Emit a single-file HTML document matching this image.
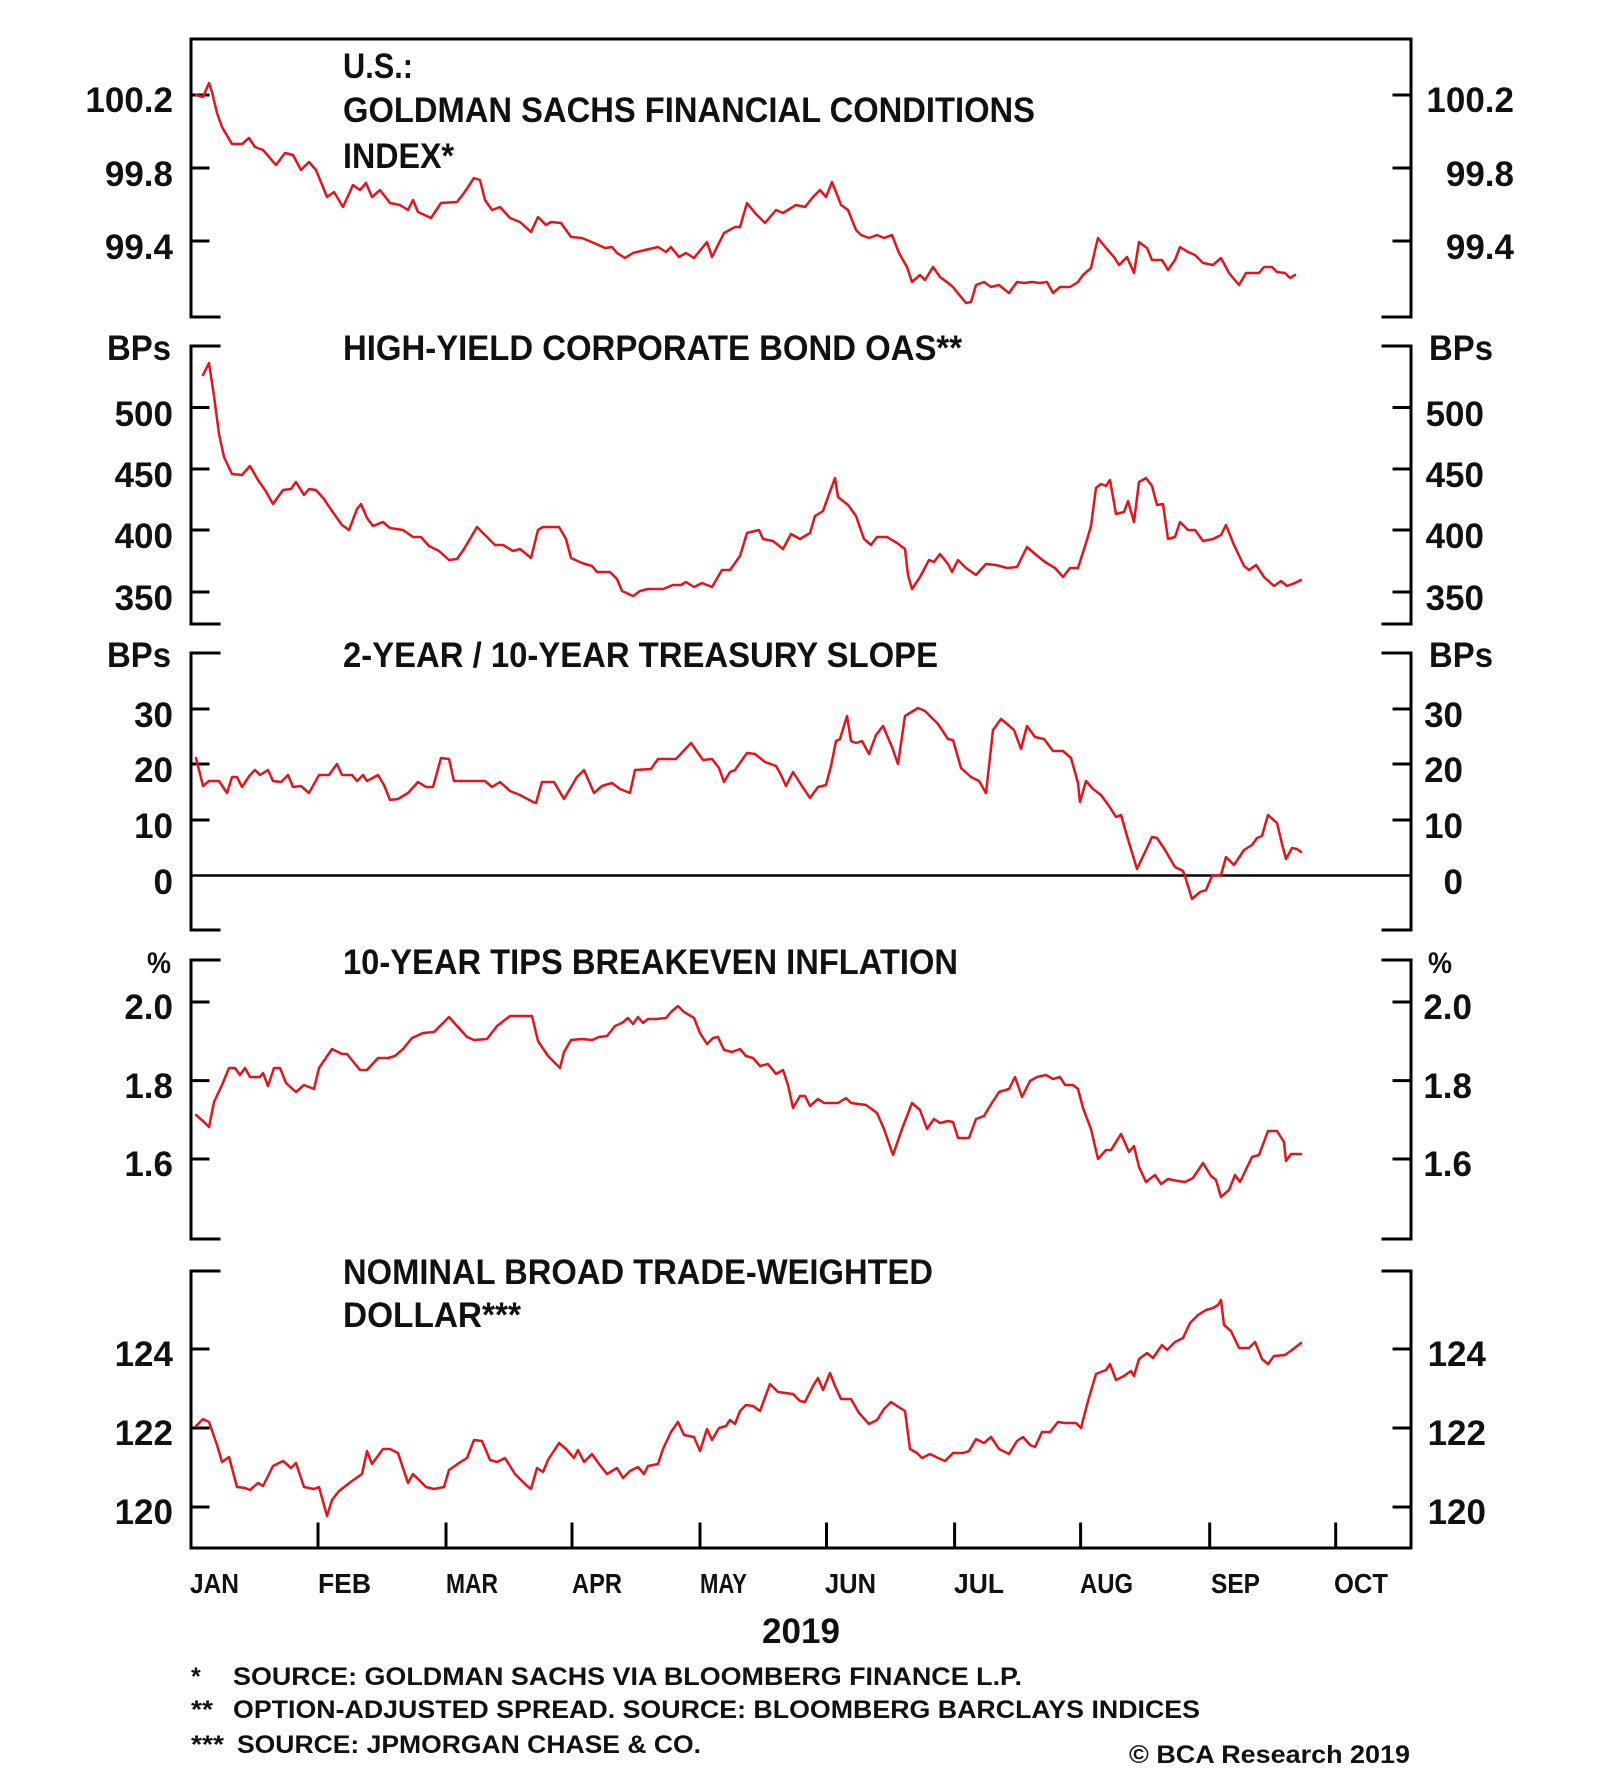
<!DOCTYPE html>
<html>
<head>
<meta charset="utf-8">
<style>
  html, body { margin: 0; padding: 0; background: #ffffff; }
  svg { display: block; }
  text { font-family: "Liberation Sans", Arial, sans-serif; font-weight: bold; fill: #111111; }
</style>
</head>
<body>
<svg width="1600" height="1787" viewBox="0 0 1600 1787" xmlns="http://www.w3.org/2000/svg">
  <rect x="0" y="0" width="1600" height="1787" fill="#ffffff"/>

  <g stroke="#000" stroke-width="3" fill="none" stroke-linecap="square">
    <!-- Panel 1 frame -->
    <path d="M191,39 L1411,39"/>
    <path d="M191,39 L191,317 L219,317"/>
    <path d="M1411,39 L1411,317 L1383,317"/>
    <path d="M191,95 L208,95 M191,168 L208,168 M191,241 L208,241"/>
    <path d="M1411,95 L1394,95 M1411,168 L1394,168 M1411,241 L1394,241"/>

    <!-- Panel 2 -->
    <path d="M219,346 L191,346 L191,624 L219,624"/>
    <path d="M1383,346 L1411,346 L1411,624 L1383,624"/>
    <path d="M191,407.5 L208,407.5 M191,469 L208,469 M191,530 L208,530 M191,592 L208,592"/>
    <path d="M1411,407.5 L1394,407.5 M1411,469 L1394,469 M1411,530 L1394,530 M1411,592 L1394,592"/>

    <!-- Panel 3 -->
    <path d="M219,653 L191,653 L191,930 L219,930"/>
    <path d="M1383,653 L1411,653 L1411,930 L1383,930"/>
    <path d="M191,709 L208,709 M191,764 L208,764 M191,820 L208,820"/>
    <path d="M1411,709 L1394,709 M1411,764 L1394,764 M1411,820 L1394,820"/>
    <path d="M191,875.5 L1411,875.5" stroke-width="2.5"/>

    <!-- Panel 4 -->
    <path d="M219,960 L191,960 L191,1239 L219,1239"/>
    <path d="M1383,960 L1411,960 L1411,1239 L1383,1239"/>
    <path d="M191,1002 L208,1002 M191,1080.6 L208,1080.6 M191,1159 L208,1159"/>
    <path d="M1411,1002 L1394,1002 M1411,1080.6 L1394,1080.6 M1411,1159 L1394,1159"/>

    <!-- Panel 5 -->
    <path d="M219,1271 L191,1271 L191,1548 L1411,1548 L1411,1271 L1383,1271"/>
    <path d="M191,1349 L208,1349 M191,1428 L208,1428 M191,1507 L208,1507"/>
    <path d="M1411,1349 L1394,1349 M1411,1428 L1394,1428 M1411,1507 L1394,1507"/>
    <!-- month ticks -->
    <path d="M318,1524 L318,1548 M446,1524 L446,1548 M572,1524 L572,1548 M700,1524 L700,1548 M826.5,1524 L826.5,1548 M954.6,1524 L954.6,1548 M1080.6,1524 L1080.6,1548 M1209.7,1524 L1209.7,1548 M1335.7,1524 L1335.7,1548"/>
  </g>

  <!-- Series -->
  <g stroke="#e3141c" stroke-width="2.5" fill="none" stroke-linejoin="round" stroke-linecap="round">
    <polyline points="196,95 203,97 209,83 212,92 217,113 222,127 232,144 242,144 249,138 255,147 263,150 276,165 285,153 293,155 301,170 309,162 316,170 327,197 334,192 343,207 353,185 360,190 366,183 372,197 380,190 390,203 400,205 408,210 413,200 418,212 431,218 441,203 457,202 464,193 474,178 480,180 485,200 492,210 500,207 510,218 520,222 531,232 538,217 546,225 551,222 561,223 571,237 582,238 594,243 605,248 612,247 617,253 625,258 633,253 645,250 658,247 666,252 671,247 679,257 686,253 694,258 707,242 712,257 724,233 735,227 740,227 747,203 755,213 765,223 776,210 783,213 796,205 805,207 813,197 820,190 826,197 832,182 838,197 841,205 848,210 856,230 861,235 869,238 877,235 884,238 892,235 899,253 907,267 912,282 920,275 925,280 933,267 940,277 948,283 953,287 961,297 966,303 971,302 976,285 984,282 991,287 999,285 1009,293 1017,282 1024,283 1032,282 1040,283 1047,282 1053,293 1060,287 1070,287 1078,282 1083,275 1091,268 1095,250 1098,238 1106,248 1114,257 1119,265 1127,257 1134,273 1139,242 1147,248 1152,260 1162,260 1168,270 1175,260 1180,247 1188,252 1195,255 1203,263 1213,265 1221,258 1229,273 1239,285 1246,273 1259,273 1264,267 1272,267 1277,272 1285,273 1290,278 1295,275"/>

    <polyline points="203,375 209,363 214,396 219,434 224,457 232,474 242,475 250,466 258,480 265,490 273,504 283,490 291,489 296,482 304,495 309,489 316,490 324,499 332,511 342,525 349,530 357,509 361,504 367,518 373,526 383,522 390,528 403,530 413,537 421,537 429,546 439,551 449,560 457,559 464,549 477,527 485,535 495,545 503,545 513,551 520,549 531,558 538,530 543,527 559,527 566,539 571,558 582,563 592,566 597,572 610,572 617,579 622,591 633,596 640,591 648,589 663,589 673,585 681,585 686,582 694,587 702,583 712,587 722,570 730,570 740,556 747,533 759,530 763,539 773,541 783,549 791,534 800,539 810,533 815,516 823,511 828,497 835,478 838,497 848,505 856,516 864,539 871,545 877,537 887,537 897,543 905,549 908,575 912,589 920,577 929,560 934,562 940,554 948,564 952,572 958,560 966,568 976,575 986,564 996,565 1007,568 1017,567 1027,547 1035,554 1045,562 1055,568 1063,577 1070,568 1078,568 1086,543 1091,526 1096,488 1101,484 1106,486 1110,480 1116,514 1124,512 1128,501 1134,522 1139,482 1146,478 1152,486 1157,505 1163,504 1168,539 1175,537 1180,522 1188,530 1195,530 1203,541 1213,539 1221,535 1226,525 1234,545 1244,566 1249,570 1256,565 1264,577 1274,586 1281,581 1287,586 1295,583 1301,580"/>

    <polyline points="196,758 199,770 203,786 209,781 219,781 227,793 232,777 237,777 242,787 250,775 255,770 260,775 268,770 273,781 281,782 288,775 293,787 301,786 309,793 319,775 329,775 337,764 342,775 352,775 357,781 363,775 367,781 378,775 384,785 390,800 398,799 408,793 418,782 426,787 433,787 441,758 449,759 454,781 464,781 485,781 492,787 500,782 510,791 520,795 533,802 536,803 542,782 554,782 564,799 577,777 584,770 594,793 602,786 612,783 620,789 630,793 635,770 651,769 658,759 676,759 691,743 703,760 712,759 719,768 724,782 730,772 735,770 747,753 755,754 765,762 776,766 781,775 786,786 793,772 800,783 810,798 818,787 826,785 831,766 836,741 840,739 847,716 851,741 856,743 862,741 869,754 876,735 883,726 892,747 898,764 905,716 918,708 925,711 938,724 948,739 953,740 961,768 971,777 979,781 986,793 993,730 1001,719 1007,724 1014,730 1021,749 1027,726 1035,737 1044,739 1053,751 1063,751 1071,758 1078,783 1080,802 1086,781 1093,789 1101,795 1109,806 1116,817 1121,815 1127,836 1137,869 1146,850 1152,837 1157,838 1165,850 1175,867 1183,871 1185,876 1192,899 1200,892 1206,890 1212,876 1221,875 1226,857 1234,865 1244,850 1252,845 1257,838 1262,836 1268,815 1277,823 1282,844 1286,859 1292,848 1297,849 1301,852"/>

    <polyline points="196,1115 203,1121 209,1127 214,1102 222,1085 229,1068 235,1068 240,1075 245,1068 250,1077 260,1077 263,1073 268,1086 274,1068 280,1068 286,1083 296,1092 304,1085 314,1089 319,1068 332,1049 342,1054 347,1054 360,1070 367,1070 378,1058 388,1058 395,1056 403,1049 412,1038 423,1033 434,1032 449,1017 457,1026 467,1037 474,1040 487,1039 497,1026 510,1016 520,1016 532,1016 538,1041 548,1056 560,1068 564,1052 571,1040 582,1039 592,1040 599,1037 607,1036 615,1026 622,1023 628,1018 633,1024 638,1017 643,1023 648,1019 656,1019 666,1018 671,1012 678,1006 684,1012 694,1018 700,1033 707,1044 713,1038 718,1037 724,1050 732,1052 740,1049 746,1056 753,1058 760,1066 768,1064 776,1074 783,1070 788,1085 793,1108 800,1096 805,1096 810,1106 818,1099 824,1103 838,1103 846,1098 851,1103 866,1105 877,1113 884,1129 893,1155 902,1129 912,1103 920,1110 927,1129 934,1119 940,1123 948,1121 953,1122 958,1138 969,1138 976,1119 984,1116 990,1106 999,1092 1009,1089 1015,1077 1022,1097 1030,1081 1037,1077 1046,1075 1053,1079 1060,1077 1065,1085 1073,1085 1078,1089 1083,1108 1091,1129 1098,1159 1106,1150 1111,1150 1121,1134 1129,1152 1134,1146 1139,1167 1146,1182 1155,1175 1161,1184 1168,1179 1178,1181 1185,1182 1193,1178 1203,1163 1211,1176 1216,1180 1221,1197 1229,1190 1235,1175 1240,1182 1252,1157 1259,1155 1268,1131 1277,1131 1284,1142 1286,1161 1291,1154 1301,1154"/>

    <polyline points="196,1426 203,1419 209,1422 217,1445 222,1462 229,1457 237,1487 245,1488 250,1490 258,1483 263,1486 273,1466 283,1461 291,1468 296,1463 304,1487 314,1489 319,1487 327,1516 332,1500 339,1491 352,1481 362,1474 367,1451 372,1464 383,1449 390,1449 398,1453 408,1483 413,1474 426,1487 434,1489 444,1487 449,1470 459,1463 467,1458 474,1440 482,1441 490,1460 497,1462 505,1458 515,1474 526,1485 531,1489 537,1468 543,1472 548,1460 559,1443 566,1449 574,1458 578,1450 584,1462 592,1454 599,1464 607,1474 617,1468 623,1478 630,1471 638,1467 644,1474 648,1466 658,1464 663,1449 671,1432 678,1422 684,1435 694,1437 700,1451 707,1429 712,1440 719,1428 726,1426 730,1420 735,1424 740,1411 746,1405 753,1406 760,1411 770,1384 778,1392 793,1394 800,1401 805,1402 813,1386 818,1378 823,1390 830,1373 835,1386 841,1399 851,1399 859,1413 869,1424 877,1420 884,1409 891,1402 897,1406 905,1411 910,1449 917,1453 922,1458 930,1454 938,1458 945,1461 953,1453 963,1453 969,1451 976,1439 984,1443 991,1437 999,1449 1009,1454 1017,1441 1023,1437 1030,1445 1035,1447 1042,1432 1050,1432 1058,1422 1065,1423 1076,1423 1081,1428 1088,1401 1096,1374 1106,1370 1110,1364 1116,1380 1124,1376 1131,1371 1134,1376 1139,1359 1147,1353 1153,1358 1162,1345 1167,1350 1175,1342 1183,1338 1190,1323 1198,1315 1206,1310 1213,1308 1218,1305 1221,1300 1224,1325 1231,1331 1239,1348 1249,1348 1255,1342 1262,1359 1268,1364 1274,1356 1285,1355 1292,1350 1301,1343"/>
  </g>

  <!-- Titles -->
  <g font-size="35">
    <text x="343" y="78" textLength="70" lengthAdjust="spacingAndGlyphs">U.S.:</text>
    <text x="343" y="122" textLength="692" lengthAdjust="spacingAndGlyphs">GOLDMAN SACHS FINANCIAL CONDITIONS</text>
    <text x="343" y="168" textLength="111" lengthAdjust="spacingAndGlyphs">INDEX*</text>
    <text x="343" y="360" textLength="619" lengthAdjust="spacingAndGlyphs">HIGH-YIELD CORPORATE BOND OAS**</text>
    <text x="343" y="667" textLength="595" lengthAdjust="spacingAndGlyphs">2-YEAR / 10-YEAR TREASURY SLOPE</text>
    <text x="343" y="974" textLength="615" lengthAdjust="spacingAndGlyphs">10-YEAR TIPS BREAKEVEN INFLATION</text>
    <text x="343" y="1284" textLength="590" lengthAdjust="spacingAndGlyphs">NOMINAL BROAD TRADE-WEIGHTED</text>
    <text x="343" y="1327" textLength="178" lengthAdjust="spacingAndGlyphs">DOLLAR***</text>
  </g>

  <!-- Left axis labels -->
  <g font-size="35" text-anchor="end">
    <text x="173" y="112">100.2</text>
    <text x="173" y="186">99.8</text>
    <text x="173" y="259">99.4</text>

    <text x="171" y="360" textLength="64" lengthAdjust="spacingAndGlyphs">BPs</text>
    <text x="173" y="426">500</text>
    <text x="173" y="487">450</text>
    <text x="173" y="548">400</text>
    <text x="173" y="610">350</text>

    <text x="171" y="667" textLength="64" lengthAdjust="spacingAndGlyphs">BPs</text>
    <text x="173" y="727">30</text>
    <text x="173" y="782">20</text>
    <text x="173" y="838">10</text>
    <text x="173" y="894">0</text>

    <text x="171" y="973" font-size="30" textLength="24" lengthAdjust="spacingAndGlyphs">%</text>
    <text x="173" y="1019">2.0</text>
    <text x="173" y="1098">1.8</text>
    <text x="173" y="1176">1.6</text>

    <text x="173" y="1366">124</text>
    <text x="173" y="1445">122</text>
    <text x="173" y="1524">120</text>
  </g>

  <!-- Right axis labels -->
  <g font-size="35" text-anchor="end">
    <text x="1514" y="112">100.2</text>
    <text x="1514" y="186">99.8</text>
    <text x="1514" y="259">99.4</text>

    <text x="1484" y="426">500</text>
    <text x="1484" y="487">450</text>
    <text x="1484" y="548">400</text>
    <text x="1484" y="610">350</text>

    <text x="1463" y="727">30</text>
    <text x="1463" y="782">20</text>
    <text x="1463" y="838">10</text>
    <text x="1463" y="894">0</text>

    <text x="1472" y="1019">2.0</text>
    <text x="1472" y="1098">1.8</text>
    <text x="1472" y="1176">1.6</text>

    <text x="1486" y="1366">124</text>
    <text x="1486" y="1445">122</text>
    <text x="1486" y="1524">120</text>
  </g>
  <g font-size="35">
    <text x="1429" y="360" textLength="64" lengthAdjust="spacingAndGlyphs">BPs</text>
    <text x="1429" y="667" textLength="64" lengthAdjust="spacingAndGlyphs">BPs</text>
    <text x="1428" y="973" font-size="30" textLength="24" lengthAdjust="spacingAndGlyphs">%</text>
  </g>

  <!-- Month labels -->
  <g font-size="28">
    <text x="190" y="1593" textLength="49" lengthAdjust="spacingAndGlyphs">JAN</text>
    <text x="318" y="1593" textLength="53" lengthAdjust="spacingAndGlyphs">FEB</text>
    <text x="446" y="1593" textLength="52" lengthAdjust="spacingAndGlyphs">MAR</text>
    <text x="572" y="1593" textLength="50" lengthAdjust="spacingAndGlyphs">APR</text>
    <text x="700" y="1593" textLength="47" lengthAdjust="spacingAndGlyphs">MAY</text>
    <text x="825" y="1593" textLength="51" lengthAdjust="spacingAndGlyphs">JUN</text>
    <text x="954" y="1593" textLength="50" lengthAdjust="spacingAndGlyphs">JUL</text>
    <text x="1080" y="1593" textLength="53" lengthAdjust="spacingAndGlyphs">AUG</text>
    <text x="1211" y="1593" textLength="49" lengthAdjust="spacingAndGlyphs">SEP</text>
    <text x="1334" y="1593" textLength="54" lengthAdjust="spacingAndGlyphs">OCT</text>
  </g>
  <text x="762" y="1643" font-size="35" textLength="78" lengthAdjust="spacingAndGlyphs">2019</text>

  <!-- Footnotes -->
  <g font-size="25">
    <text x="191" y="1685">*</text>
    <text x="233" y="1685" textLength="789" lengthAdjust="spacingAndGlyphs">SOURCE: GOLDMAN SACHS VIA BLOOMBERG FINANCE L.P.</text>
    <text x="191" y="1718" textLength="22" lengthAdjust="spacingAndGlyphs">**</text>
    <text x="233" y="1718" textLength="967" lengthAdjust="spacingAndGlyphs">OPTION-ADJUSTED SPREAD. SOURCE: BLOOMBERG BARCLAYS INDICES</text>
    <text x="191" y="1753" textLength="33" lengthAdjust="spacingAndGlyphs">***</text>
    <text x="237" y="1753" textLength="464" lengthAdjust="spacingAndGlyphs">SOURCE: JPMORGAN CHASE &amp; CO.</text>
    <text x="1129" y="1763" textLength="281" lengthAdjust="spacingAndGlyphs">© BCA Research 2019</text>
  </g>
</svg>
</body>
</html>
